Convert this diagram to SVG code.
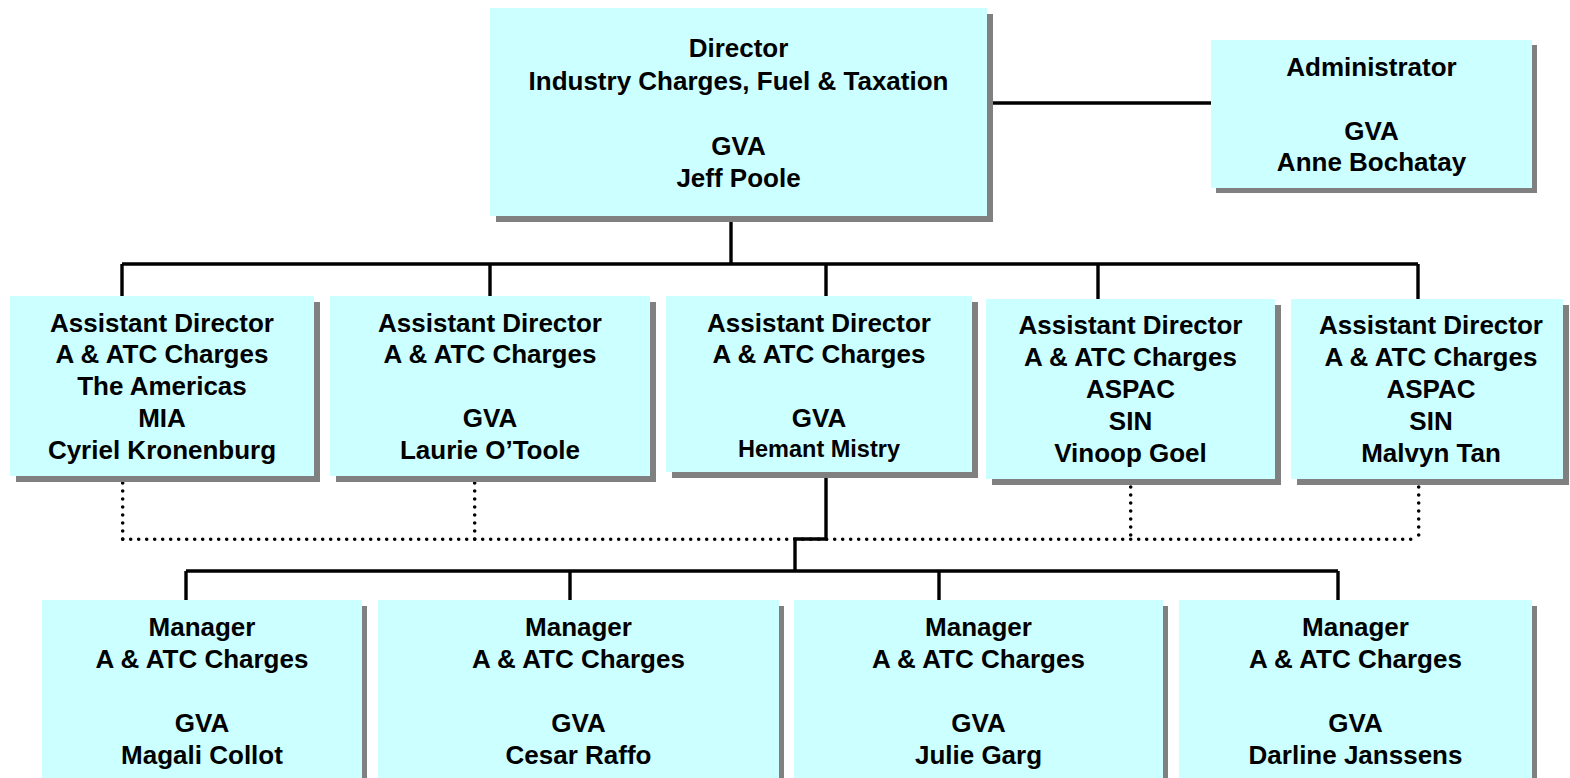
<svg xmlns="http://www.w3.org/2000/svg" width="1570" height="778" viewBox="0 0 1570 778">
<style>
.sh{fill:#808080}
.bx{fill:#CCFFFF}
text{font-family:"Liberation Sans",Arial,sans-serif;font-weight:bold;font-size:26px;fill:#000;text-anchor:middle}
.sm{font-size:23.5px}
.ln{fill:none;stroke:#000;stroke-width:3.4}
.dt{fill:none;stroke:#000;stroke-width:3.6;stroke-linecap:round;stroke-dasharray:0 8}
</style>
<rect width="1570" height="778" fill="#fff"/>
<g id="connectors">
<path class="ln" d="M987 103H1211"/>
<path class="ln" d="M731 216V264"/>
<path class="ln" d="M122 264H1418"/>
<path class="ln" d="M122 264V296M490 264V296M826 264V296M1098 264V299M1418 264V299"/>
<path class="ln" d="M826 472V539H795V571"/>
<path class="ln" d="M186 571H1338"/>
<path class="ln" d="M186 571V600M570 571V600M939 571V600M1338 571V600"/>
<path class="dt" d="M122.7 475V539.3M474.7 475V539.3M1130.7 479V539.3M1418.7 479V539.3"/>
<path class="dt" d="M122.7 539.3H1418.7"/>
</g>
<g id="director">
<rect class="sh" x="496" y="14" width="497" height="208"/>
<rect class="bx" x="490" y="8" width="497" height="208"/>
<text x="738.5" y="57">Director</text>
<text x="738.5" y="90">Industry Charges, Fuel &amp; Taxation</text>
<text x="738.5" y="155">GVA</text>
<text x="738.5" y="187">Jeff Poole</text>
</g>
<g id="administrator">
<rect class="sh" x="1216" y="45" width="321" height="148"/>
<rect class="bx" x="1211" y="40" width="321" height="148"/>
<text x="1371.5" y="76">Administrator</text>
<text x="1371.5" y="140">GVA</text>
<text x="1371.5" y="171">Anne Bochatay</text>
</g>
<g id="ad-americas">
<rect class="sh" x="16" y="302" width="304" height="180"/>
<rect class="bx" x="10" y="296" width="304" height="180"/>
<text x="162" y="332">Assistant Director</text>
<text x="162" y="363">A &amp; ATC Charges</text>
<text x="162" y="395">The Americas</text>
<text x="162" y="427">MIA</text>
<text x="162" y="459">Cyriel Kronenburg</text>
</g>
<g id="ad-otoole">
<rect class="sh" x="336" y="302" width="320" height="180"/>
<rect class="bx" x="330" y="296" width="320" height="180"/>
<text x="490" y="332">Assistant Director</text>
<text x="490" y="363">A &amp; ATC Charges</text>
<text x="490" y="427">GVA</text>
<text x="490" y="459">Laurie O’Toole</text>
</g>
<g id="ad-mistry">
<rect class="sh" x="672" y="302" width="306" height="176"/>
<rect class="bx" x="666" y="296" width="306" height="176"/>
<text x="819" y="332">Assistant Director</text>
<text x="819" y="363">A &amp; ATC Charges</text>
<text x="819" y="427">GVA</text>
<text class="sm" x="819" y="457">Hemant Mistry</text>
</g>
<g id="ad-goel">
<rect class="sh" x="992" y="305" width="289" height="180"/>
<rect class="bx" x="986" y="299" width="289" height="180"/>
<text x="1130.5" y="334">Assistant Director</text>
<text x="1130.5" y="366">A &amp; ATC Charges</text>
<text x="1130.5" y="398">ASPAC</text>
<text x="1130.5" y="430">SIN</text>
<text x="1130.5" y="462">Vinoop Goel</text>
</g>
<g id="ad-tan">
<rect class="sh" x="1297" y="305" width="272" height="180"/>
<rect class="bx" x="1291" y="299" width="272" height="180"/>
<text x="1431" y="334">Assistant Director</text>
<text x="1431" y="366">A &amp; ATC Charges</text>
<text x="1431" y="398">ASPAC</text>
<text x="1431" y="430">SIN</text>
<text x="1431" y="462">Malvyn Tan</text>
</g>
<g id="mgr-collot">
<rect class="sh" x="47" y="606" width="320" height="190"/>
<rect class="bx" x="42" y="600" width="320" height="190"/>
<text x="202" y="636">Manager</text>
<text x="202" y="668">A &amp; ATC Charges</text>
<text x="202" y="732">GVA</text>
<text x="202" y="764">Magali Collot</text>
</g>
<g id="mgr-raffo">
<rect class="sh" x="383" y="606" width="401" height="190"/>
<rect class="bx" x="378" y="600" width="401" height="190"/>
<text x="578.5" y="636">Manager</text>
<text x="578.5" y="668">A &amp; ATC Charges</text>
<text x="578.5" y="732">GVA</text>
<text x="578.5" y="764">Cesar Raffo</text>
</g>
<g id="mgr-garg">
<rect class="sh" x="799" y="606" width="369" height="190"/>
<rect class="bx" x="794" y="600" width="369" height="190"/>
<text x="978.5" y="636">Manager</text>
<text x="978.5" y="668">A &amp; ATC Charges</text>
<text x="978.5" y="732">GVA</text>
<text x="978.5" y="764">Julie Garg</text>
</g>
<g id="mgr-janssens">
<rect class="sh" x="1184" y="606" width="353" height="190"/>
<rect class="bx" x="1179" y="600" width="353" height="190"/>
<text x="1355.5" y="636">Manager</text>
<text x="1355.5" y="668">A &amp; ATC Charges</text>
<text x="1355.5" y="732">GVA</text>
<text x="1355.5" y="764">Darline Janssens</text>
</g>
</svg>
